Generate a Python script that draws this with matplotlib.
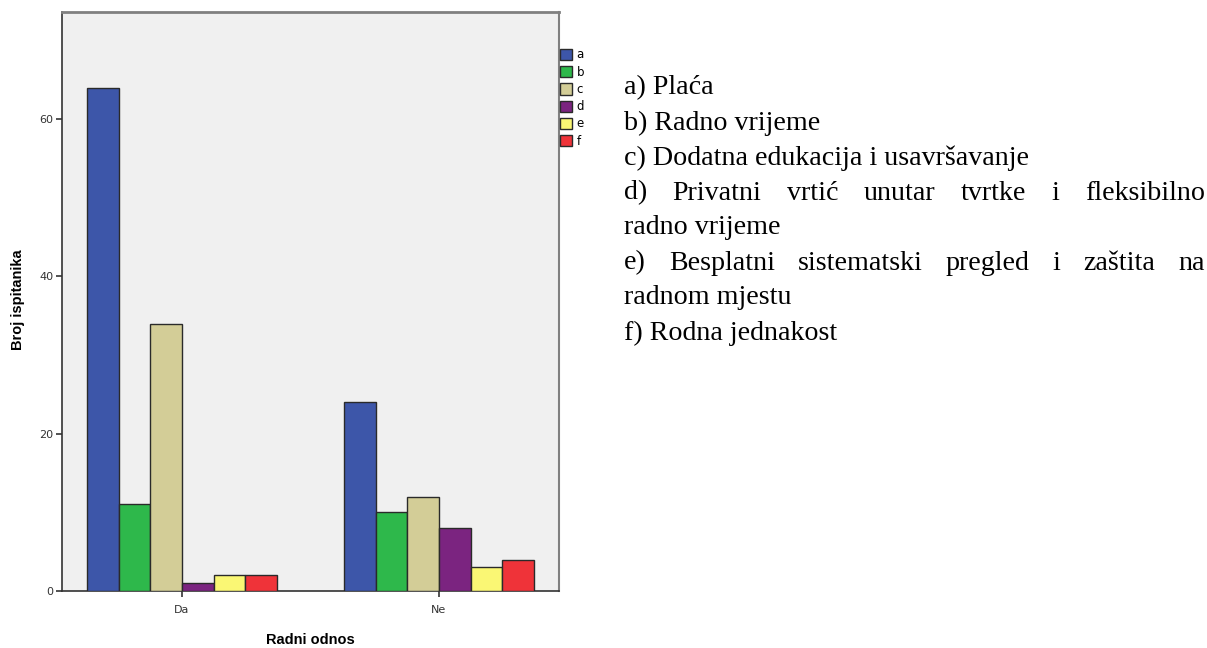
import matplotlib
matplotlib.use('Agg')
import matplotlib.pyplot as plt
from matplotlib.patches import Patch
import numpy as np

# --- data ---
groups = ['Da', 'Ne']
series = ['a', 'b', 'c', 'd', 'e', 'f']
counts_da = [64, 11, 34, 1, 2, 2]
counts_ne = [24, 10, 12, 8, 3, 4]
colors = ['#3D56A9', '#2EB84B', '#D3CD97', '#7B2480', '#FAF774', '#EF3339']
y_ticks = [0, 20, 40, 60]

notes = [
    ('a) Plaća', False),
    ('b) Radno vrijeme', False),
    ('c) Dodatna edukacija i usavršavanje', False),
    ('d) Privatni vrtić unutar tvrtke i fleksibilno', True),
    ('radno vrijeme', False),
    ('e) Besplatni sistematski pregled i zaštita na', True),
    ('radnom mjestu', False),
    ('f) Rodna jednakost', False),
]

W, H = 1207, 648
fig = plt.figure(figsize=(W / 100, H / 100), dpi=100)
fig.patch.set_facecolor('white')

# axes placed in pixel terms of the reference
left, right, top, bottom = 62, 559, 12, 591
ax = fig.add_axes([left / W, 1 - bottom / H, (right - left) / W, (bottom - top) / H])
ax.set_facecolor('#F0F0F0')

bar_w = 0.1233
x = np.arange(len(groups))
values = np.array([counts_da, counts_ne])
for i, s in enumerate(series):
    ax.bar(x + (i - 2.5) * bar_w, values[:, i], width=bar_w, color=colors[i],
           edgecolor='#2a2a2a', linewidth=1.0, zorder=3)

ax.set_xlim(-0.467, 1.467)
ax.set_ylim(0, 73.6)
ax.set_xticks(x)
ax.set_xticklabels(groups)
ax.set_yticks(y_ticks)
ax.tick_params(axis='both', labelsize=8, colors='#333333', length=4, width=1.2, pad=2)
ax.tick_params(axis='x', pad=6, direction='out')

for side in ['left', 'bottom']:
    ax.spines[side].set_color('#333333')
    ax.spines[side].set_linewidth(1.2)
ax.spines['top'].set_color('#808080')
ax.spines['top'].set_linewidth(2.0)
ax.spines['right'].set_color('#808080')
ax.spines['right'].set_linewidth(1.5)

# legend at the right edge of the plot frame
handles = [Patch(facecolor=c, edgecolor='#2a2a2a', linewidth=1.0) for c in colors]
ax.legend(handles, series, loc='upper left', bbox_to_anchor=(1.003, 0.937),
          frameon=False, fontsize=8.5, handlelength=1.0, handleheight=1.1,
          handletextpad=0.35, labelspacing=0.36, borderpad=0, borderaxespad=0)

fig.text((left + right) / 2 / W, 1 - 640 / H, 'Radni odnos', ha='center', va='center',
         fontsize=10.5, fontweight='bold', family='Liberation Sans')
fig.text(18 / W, 1 - 300 / H, 'Broj ispitanika', ha='center', va='center', rotation=90,
         fontsize=10.5, fontweight='bold', family='Liberation Sans')

# explanatory text on the right, first lines of wrapped items justified
tx0, tx1 = 624, 1205
y0, dy = 88, 35
fs = 20.2
renderer = fig.canvas.get_renderer()
for k, (line, justify) in enumerate(notes):
    yy = 1 - (y0 + k * dy) / H
    if not justify:
        fig.text(tx0 / W, yy, line, ha='left', va='center', fontsize=fs,
                 family='Liberation Serif')
        continue
    words = line.split()
    arts = [fig.text(0, yy, w_, ha='left', va='center', fontsize=fs,
                     family='Liberation Serif') for w_ in words]
    widths = [a.get_window_extent(renderer).width for a in arts]
    gap = (tx1 - tx0 - sum(widths)) / (len(words) - 1)
    xp = tx0
    for a, wd in zip(arts, widths):
        a.set_x(xp / W)
        xp += wd + gap

fig.savefig('out.png', dpi=100)
